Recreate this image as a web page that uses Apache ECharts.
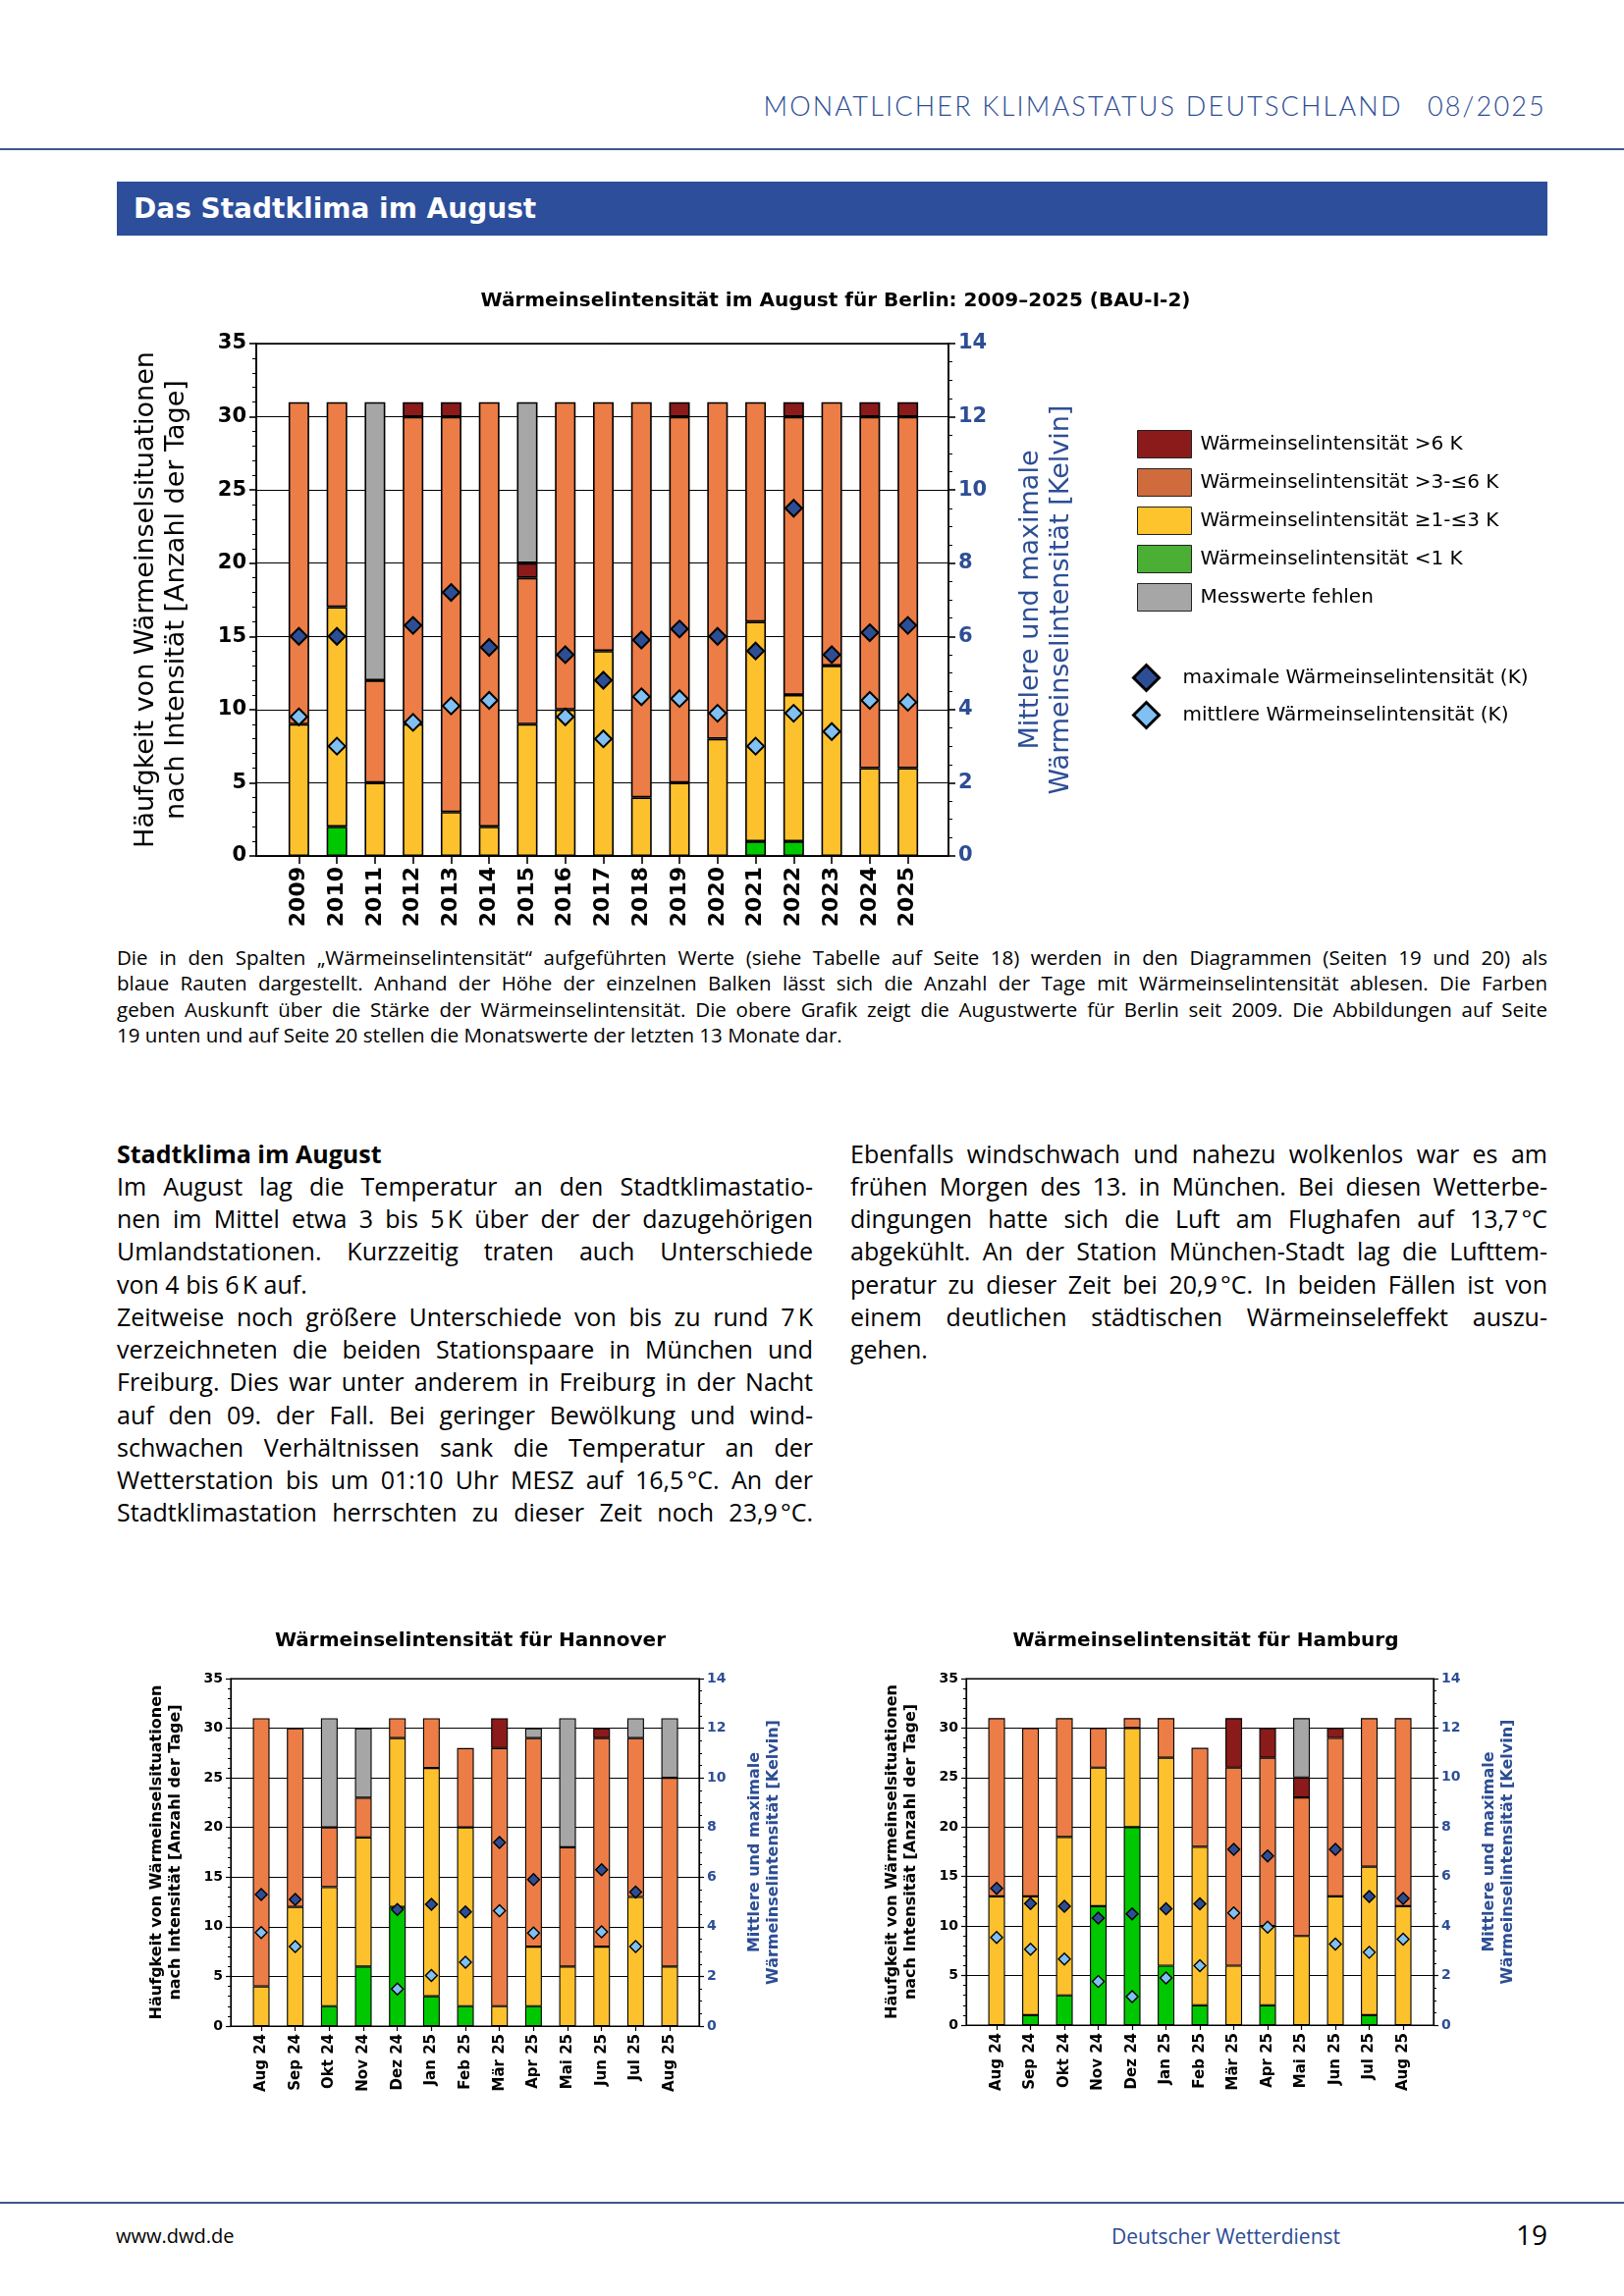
<!DOCTYPE html>
<html>
<head>
<meta charset="utf-8">
<title>Das Stadtklima im August</title>
<script src="https://cdn.jsdelivr.net/npm/echarts@6/dist/echarts.min.js"></script>
<style>
html,body{margin:0;padding:0;background:#fff;}
#page{position:relative;width:1654px;height:2339px;overflow:hidden;background:#fff;font-family:'Open Sans',sans-serif;color:#000;}
.ln{position:absolute;white-space:nowrap;}
.ln span{white-space:nowrap;}
.chart{position:absolute;}
</style>
</head>
<body>
<div id="page">
  <div style="position:absolute;left:0;top:151px;width:1654px;height:2px;background:#3d5788;"></div>
  <div style="position:absolute;left:119px;top:185px;width:1457px;height:55px;background:#2d4e9a;"></div>
  <div class="chart" id="cBerlin" style="left:100px;top:270px;width:1520px;height:690px;"></div>
  <div class="chart" id="cHannover" style="left:120px;top:1640px;width:740px;height:520px;"></div>
  <div class="chart" id="cHamburg" style="left:870px;top:1640px;width:740px;height:520px;"></div>
  <div style="position:absolute;left:0;top:2243px;width:1654px;height:2px;background:#3d5788;"></div>
</div>
<script>
// ---------------- DATA ----------------
const berlinYears = ['2009','2010','2011','2012','2013','2014','2015','2016','2017','2018','2019','2020','2021','2022','2023','2024','2025'];
const berlinLt1   = [0,2,0,0,0,0,0,0,0,0,0,0,1,1,0,0,0];
const berlin1to3  = [9,15,5,9,3,2,9,10,14,4,5,8,15,10,13,6,6];
const berlin3to6  = [22,14,7,21,27,29,10,21,17,27,25,23,15,19,18,24,24];
const berlinGt6   = [0,0,0,1,1,0,1,0,0,0,1,0,0,1,0,1,1];
const berlinMiss  = [0,0,19,0,0,0,11,0,0,0,0,0,0,0,0,0,0];
const berlinMax   = [6.0,6.0,null,6.3,7.2,5.7,null,5.5,4.8,5.9,6.2,6.0,5.6,9.5,5.5,6.1,6.3];
const berlinMean  = [3.8,3.0,null,3.65,4.1,4.25,null,3.8,3.2,4.35,4.3,3.9,3.0,3.9,3.4,4.25,4.2];

const months = ['Aug 24','Sep 24','Okt 24','Nov 24','Dez 24','Jan 25','Feb 25','Mär 25','Apr 25','Mai 25','Jun 25','Jul 25','Aug 25'];

const hannoverLt1  = [0,0,2,6,12,3,2,0,2,0,0,0,0];
const hannover1to3 = [4,12,12,13,17,23,18,2,6,6,8,13,6];
const hannover3to6 = [27,18,6,4,2,5,8,26,21,12,21,16,19];
const hannoverGt6  = [0,0,0,0,0,0,0,3,0,0,1,0,0];
const hannoverMiss = [0,0,11,7,0,0,0,0,1,13,0,2,6];
const hannoverMax  = [5.3,5.1,null,null,4.7,4.9,4.6,7.4,5.9,null,6.3,5.4,null];
const hannoverMean = [3.77,3.2,null,null,1.49,2.04,2.57,4.65,3.75,null,3.8,3.2,null];

const hamburgLt1  = [0,1,3,12,20,6,2,0,2,0,0,1,0];
const hamburg1to3 = [13,12,16,14,10,21,16,6,8,9,13,15,12];
const hamburg3to6 = [18,17,12,4,1,4,10,20,17,14,16,15,19];
const hamburgGt6  = [0,0,0,0,0,0,0,5,3,2,1,0,0];
const hamburgMiss = [0,0,0,0,0,0,0,0,0,6,0,0,0];
const hamburgMax  = [5.52,4.91,4.8,4.32,4.49,4.7,4.9,7.1,6.83,null,7.1,5.2,5.12];
const hamburgMean = [3.54,3.06,2.67,1.76,1.15,1.9,2.4,4.53,3.96,null,3.27,2.94,3.47];

const DAYS_MAX = 35, DAYS_STEP = 5;
const KELVIN_MAX = 14, KELVIN_STEP = 2;

// ---------------- STYLE ----------------
const FONT = 'DejaVu Sans';
const COL = {green:'#00c800', yellow:'#fcc12d', orange:'#ec7d46', red:'#8b1a1a', gray:'#a6a6a6',
             maxD:'#2d4e95', meanD:'#80c0f2', blue:'#2d4e95'};
const NAMES = {gt6:'Wärmeinselintensität >6 K', b36:'Wärmeinselintensität >3-≤6 K', b13:'Wärmeinselintensität ≥1-≤3 K',
               lt1:'Wärmeinselintensität <1 K', miss:'Messwerte fehlen',
               max:'maximale Wärmeinselintensität (K)', mean:'mittlere Wärmeinselintensität (K)'};

function buildOption(p) {
  const vals = arr => arr.map(v => (v === 0 || v === null) ? null : v);
  const stackDefs = [
    [NAMES.lt1, p.lt1, COL.green],
    [NAMES.b13, p.b13, COL.yellow],
    [NAMES.b36, p.b36, COL.orange],
    [NAMES.gt6, p.gt6, COL.red],
    [NAMES.miss, p.miss, COL.gray]
  ];
  const series = stackDefs.map(([name, arr, color]) => ({
    type: 'bar', name, stack: 'tage', xAxisIndex: 1, yAxisIndex: 2,
    barWidth: p.barW, data: vals(arr), silent: true,
    itemStyle: {color, borderColor: '#000', borderWidth: p.barBorder},
    emphasis: {disabled: true}
  }));
  series.push({
    type: 'scatter', name: NAMES.max, xAxisIndex: 1, yAxisIndex: 3, symbol: 'diamond',
    symbolSize: p.sym, z: 10, silent: true, data: p.max,
    itemStyle: {color: COL.maxD, borderColor: '#000', borderWidth: p.symBorder, opacity: 1}
  });
  series.push({
    type: 'scatter', name: NAMES.mean, xAxisIndex: 1, yAxisIndex: 3, symbol: 'diamond',
    symbolSize: p.sym, z: 10, silent: true, data: p.mean,
    itemStyle: {color: COL.meanD, borderColor: '#000', borderWidth: p.symBorder, opacity: 1}
  });
  const lineStyle = {color: '#000', width: p.lw};
  const [fl, ft, fw, fh] = p.frame;
  const opt = {
    animation: false,
    backgroundColor: 'transparent',
    title: {
      text: p.title, left: p.titleX, top: p.titleTop, textAlign: 'center',
      textStyle: {fontFamily: FONT, fontWeight: 'bold', fontSize: p.titleSize, color: '#000'}
    },
    grid: [
      {left: fl, top: ft, width: fw, height: fh, show: true, borderColor: '#000', borderWidth: p.lw,
       backgroundColor: 'transparent', containLabel: false},
      {left: p.inner[0], top: ft, width: p.inner[1], height: fh, show: false, containLabel: false}
    ],
    xAxis: [
      {gridIndex: 0, type: 'value', min: 0, max: 1,
       axisLine: {show: true, onZero: false, lineStyle}, axisTick: {show: false},
       axisLabel: {show: false}, splitLine: {show: false}},
      {gridIndex: 1, type: 'category', data: p.labels, boundaryGap: true,
       axisLine: {show: false},
       axisTick: {show: true, alignWithLabel: true, interval: 0, length: p.xTick, lineStyle},
       axisLabel: {interval: 0, rotate: 90, fontFamily: FONT, fontWeight: 'bold', fontSize: p.xFont,
                   color: '#000', margin: p.xMargin},
       splitLine: {show: false}}
    ],
    yAxis: [
      {
        gridIndex: 0, type: 'value', position: 'left', min: 0, max: DAYS_MAX, interval: DAYS_STEP,
        axisLine: {show: true, onZero: false, lineStyle},
        axisTick: {show: true, length: p.yTick, lineStyle},
        minorTick: {show: true, splitNumber: 5, length: p.yMinor, lineStyle: {color: '#000', width: 1}},
        splitLine: {show: true, lineStyle: {color: '#000', width: 1}},
        axisLabel: {fontFamily: FONT, fontWeight: 'bold', fontSize: p.yFont, color: '#000', margin: p.yMargin},
        name: 'Häufgkeit von Wärmeinselsituationen\nnach Intensität [Anzahl der Tage]',
        nameLocation: 'middle', nameRotate: 90, nameGap: p.nameGapL,
        nameTextStyle: {fontFamily: FONT, fontSize: p.nameFont, fontWeight: p.nameWeight, color: '#000', lineHeight: p.nameLH}
      },
      {
        gridIndex: 0, type: 'value', position: 'right', min: 0, max: KELVIN_MAX, interval: KELVIN_STEP,
        axisLine: {show: true, onZero: false, lineStyle},
        axisTick: {show: true, length: p.yTick, lineStyle},
        minorTick: {show: true, splitNumber: 4, length: p.yMinor, lineStyle: {color: '#000', width: 1}},
        splitLine: {show: false},
        axisLabel: {fontFamily: FONT, fontWeight: 'bold', fontSize: p.yFont, color: COL.blue, margin: p.yMargin},
        name: 'Mittlere und maximale\nWärmeinselintensität [Kelvin]',
        nameLocation: 'middle', nameRotate: 90, nameGap: p.nameGapR,
        nameTextStyle: {fontFamily: FONT, fontSize: p.nameFont, fontWeight: p.nameWeight, color: COL.blue, lineHeight: p.nameLH}
      },
      {gridIndex: 1, type: 'value', min: 0, max: DAYS_MAX, show: false, splitLine: {show: false}},
      {gridIndex: 1, type: 'value', min: 0, max: KELVIN_MAX, show: false, splitLine: {show: false}}
    ],
    series
  };
  if (p.legend) {
    opt.legend = [
      {
        orient: 'vertical', left: p.legend.barLeft, top: p.legend.barTop, itemWidth: 55, itemHeight: 28, itemGap: 10,
        selectedMode: false,
        textStyle: {fontFamily: FONT, fontSize: 20, color: '#000', padding: [0, 0, 0, 4]},
        data: [
          {name: NAMES.gt6, icon: 'rect', itemStyle: {color: '#8b1b1b', borderColor: '#222', borderWidth: 1}},
          {name: NAMES.b36, icon: 'rect', itemStyle: {color: '#cf6b3c', borderColor: '#222', borderWidth: 1}},
          {name: NAMES.b13, icon: 'rect', itemStyle: {color: '#fdc42d', borderColor: '#222', borderWidth: 1}},
          {name: NAMES.lt1, icon: 'rect', itemStyle: {color: '#4caf35', borderColor: '#222', borderWidth: 1}},
          {name: NAMES.miss, icon: 'rect', itemStyle: {color: '#a6a6a6', borderColor: '#222', borderWidth: 1}}
        ]
      },
      {
        orient: 'vertical', left: p.legend.dLeft, top: p.legend.dTop, itemWidth: 26, itemHeight: 26, itemGap: 9,
        selectedMode: false,
        textStyle: {fontFamily: FONT, fontSize: 20, color: '#000', padding: [0, 0, 0, 19]},
        data: [
          {name: NAMES.max, icon: 'diamond', itemStyle: {color: COL.maxD, borderColor: '#000', borderWidth: 3}},
          {name: NAMES.mean, icon: 'diamond', itemStyle: {color: COL.meanD, borderColor: '#000', borderWidth: 3}}
        ]
      }
    ];
  }
  return opt;
}

const bigStyle = {lw: 1.6, barW: 21, barBorder: 1.6, sym: 17, symBorder: 2, xTick: 8, xFont: 22, xMargin: 11,
  yTick: 7, yMinor: 4, yFont: 21, yMargin: 10, nameFont: 27, nameWeight: 'normal', nameLH: 31, titleSize: 20};
const smallStyle = {lw: 1.2, barW: 17, barBorder: 1.1, sym: 12, symBorder: 1.4, xTick: 5, xFont: 15, xMargin: 8,
  yTick: 5, yMinor: 3, yFont: 14, yMargin: 8, nameFont: 16, nameWeight: 'bold', nameLH: 19, titleSize: 20,
  nameGapL: 47, nameGapR: 47};

const berlinChart = echarts.init(document.getElementById('cBerlin'), null, {renderer: 'canvas'});
berlinChart.setOption(buildOption(Object.assign({}, bigStyle, {
  title: 'Wärmeinselintensität im August für Berlin: 2009–2025 (BAU-I-2)', titleX: 746, titleTop: 22,
  frame: [161, 80, 705, 522], inner: [185, 659],
  nameGapL: 66, nameGapR: 68,
  labels: berlinYears, lt1: berlinLt1, b13: berlin1to3, b36: berlin3to6, gt6: berlinGt6, miss: berlinMiss,
  max: berlinMax, mean: berlinMean,
  legend: {barLeft: 1053, barTop: 163, dLeft: 1048, dTop: 401}
})));

const hannoverChart = echarts.init(document.getElementById('cHannover'), null, {renderer: 'canvas'});
hannoverChart.setOption(buildOption(Object.assign({}, smallStyle, {
  title: 'Wärmeinselintensität für Hannover', titleX: 354, titleTop: 17,
  frame: [115, 70, 477, 354], inner: [128.7, 450.7],
  labels: months, lt1: hannoverLt1, b13: hannover1to3, b36: hannover3to6, gt6: hannoverGt6, miss: hannoverMiss,
  max: hannoverMax, mean: hannoverMean
})));

const hamburgChart = echarts.init(document.getElementById('cHamburg'), null, {renderer: 'canvas'});
hamburgChart.setOption(buildOption(Object.assign({}, smallStyle, {
  title: 'Wärmeinselintensität für Hamburg', titleX: 353, titleTop: 17,
  frame: [114, 70, 476, 353], inner: [127.8, 448.5],
  labels: months, lt1: hamburgLt1, b13: hamburg1to3, b36: hamburg3to6, gt6: hamburgGt6, miss: hamburgMiss,
  max: hamburgMax, mean: hamburgMean
})));

// ---------------- PAGE TEXT ----------------
const page = document.getElementById('page');
function addLine(text, x, top, w, lh, style, mode) {
  const d = document.createElement('div');
  d.className = 'ln';
  d.style.left = x + 'px';
  d.style.top = top + 'px';
  d.style.width = w + 'px';
  d.style.lineHeight = lh + 'px';
  Object.assign(d.style, style);
  const s = document.createElement('span');
  s.textContent = text;
  d.appendChild(s);
  page.appendChild(d);
  const nat = s.getBoundingClientRect().width;
  if (nat > w) {
    s.style.display = 'inline-block';
    s.style.transformOrigin = 'left center';
    s.style.transform = 'scaleX(' + (w / nat).toFixed(4) + ')';
  } else if (mode === 'justify') {
    d.style.textAlign = 'justify';
    d.style.textAlignLast = 'justify';
  } else if (mode === 'right') {
    d.style.textAlign = 'right';
  }
  return d;
}

// header
addLine('MONATLICHER KLIMASTATUS DEUTSCHLAND\u2002 08/2025', 773, 90, 802, 36,
  {fontFamily: 'Lato, "Open Sans", sans-serif', fontWeight: '300', fontSize: '27px', letterSpacing: '2.2px', color: '#2c4c94'}, 'right');

// banner title
addLine('Das Stadtklima im August', 136, 185, 700, 55,
  {fontFamily: FONT, fontWeight: 'bold', fontSize: '28px', color: '#fff'}, 'left');

// caption
const captionLines = [
  ['Die in den Spalten „Wärmeinselintensität“ aufgeführten Werte (siehe Tabelle auf Seite 18) werden in den Diagrammen (Seiten 19 und 20) als', 'justify'],
  ['blaue Rauten dargestellt. Anhand der Höhe der einzelnen Balken lässt sich die Anzahl der Tage mit Wärmeinselintensität ablesen. Die Farben', 'justify'],
  ['geben Auskunft über die Stärke der Wärmeinselintensität. Die obere Grafik zeigt die Augustwerte für Berlin seit 2009. Die Abbildungen auf Seite', 'justify'],
  ['19 unten und auf Seite 20 stellen die Monatswerte der letzten 13 Monate dar.', 'left']
];
captionLines.forEach((l, i) => addLine(l[0], 119, 962 + i * 26.4, 1457, 26,
  {fontFamily: '"Open Sans", sans-serif', fontSize: '20.5px', color: '#000'}, l[1]));

// left column
const bodyStyle = {fontFamily: '"Open Sans", sans-serif', fontSize: '25px', color: '#000'};
const nb = '\u202F';
const leftLines = [
  ['Im August lag die Temperatur an den Stadtklimastatio-', 'justify'],
  ['nen im Mittel etwa 3 bis 5' + nb + 'K über der der dazugehörigen', 'justify'],
  ['Umlandstationen. Kurzzeitig traten auch Unterschiede', 'justify'],
  ['von 4 bis 6' + nb + 'K auf.', 'left'],
  ['Zeitweise noch größere Unterschiede von bis zu rund 7' + nb + 'K', 'justify'],
  ['verzeichneten die beiden Stationspaare in München und', 'justify'],
  ['Freiburg. Dies war unter anderem in Freiburg in der Nacht', 'justify'],
  ['auf den 09. der Fall. Bei geringer Bewölkung und wind-', 'justify'],
  ['schwachen Verhältnissen sank die Temperatur an der', 'justify'],
  ['Wetterstation bis um 01:10 Uhr MESZ auf 16,5' + nb + '°C. An der', 'justify'],
  ['Stadtklimastation herrschten zu dieser Zeit noch 23,9' + nb + '°C.', 'justify']
];
const colTop = 1158.5, colLH = 33.25;
addLine('Stadtklima im August', 119, colTop, 709, colLH, Object.assign({}, bodyStyle, {fontWeight: 'bold'}), 'left');
leftLines.forEach((l, i) => addLine(l[0], 119, colTop + (i + 1) * colLH, 709, colLH, bodyStyle, l[1]));

// right column
const rightLines = [
  ['Ebenfalls windschwach und nahezu wolkenlos war es am', 'justify'],
  ['frühen Morgen des 13. in München. Bei diesen Wetterbe-', 'justify'],
  ['dingungen hatte sich die Luft am Flughafen auf 13,7' + nb + '°C', 'justify'],
  ['abgekühlt. An der Station München-Stadt lag die Lufttem-', 'justify'],
  ['peratur zu dieser Zeit bei 20,9' + nb + '°C. In beiden Fällen ist von', 'justify'],
  ['einem deutlichen städtischen Wärmeinseleffekt auszu-', 'justify'],
  ['gehen.', 'left']
];
rightLines.forEach((l, i) => addLine(l[0], 866, colTop + i * colLH, 710, colLH, bodyStyle, l[1]));

// footer
addLine('www.dwd.de', 118, 2264, 200, 28, {fontFamily: '"Open Sans", sans-serif', fontSize: '20px', color: '#000'}, 'left');
addLine('Deutscher Wetterdienst', 1132, 2264, 246, 28, {fontFamily: '"Open Sans", sans-serif', fontSize: '21px', color: '#2c4c94'}, 'left');
addLine('19', 1520, 2258, 56, 36, {fontFamily: '"Open Sans", sans-serif', fontSize: '28px', color: '#000'}, 'right');
</script>
</body>
</html>
